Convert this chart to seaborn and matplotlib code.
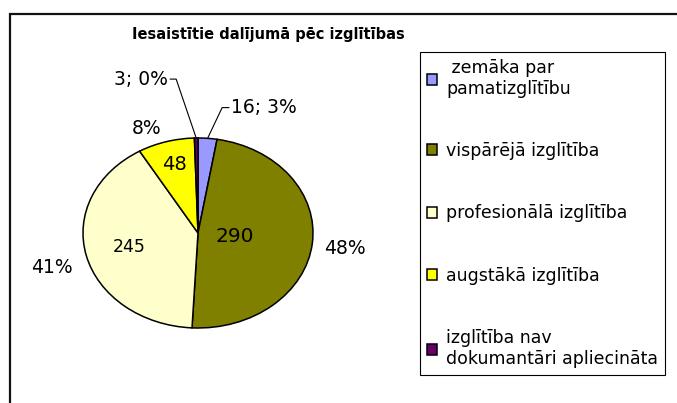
import numpy as np
import matplotlib
matplotlib.use("Agg")
import matplotlib.pyplot as plt
import seaborn as sns
from matplotlib.patches import Rectangle

# chart data
title = "Iesaistītie dalījumā pēc izglītības"
categories = [" zemāka par\npamatizglītību", "vispārējā izglītība",
              "profesionālā izglītība", "augstākā izglītība",
              "izglītība nav\ndokumantāri apliecināta"]
values = [16, 290, 245, 48, 3]
slice_colors = ["#9999FF", "#808000", "#FFFFCC", "#FFFF00", "#660066"]

sns.set_theme(style="white")
plt.rcParams["font.family"] = ["DejaVu Sans"]
plt.rcParams["text.color"] = "black"

fig = plt.figure(figsize=(6.77, 4.03), dpi=100)
fig.patch.set_facecolor("white")

# outer chart frame (runs off the right/bottom edge like the source image)
fig.patches.append(Rectangle((10 / 677, -0.05), 1.0, (403 - 14) / 403 + 0.05,
                             transform=fig.transFigure, fill=False,
                             edgecolor="#111111", linewidth=1.6))

fig.text(268 / 677, (403 - 34) / 403, title, ha="center", va="center",
         fontsize=10.5, fontweight="bold")

ax = fig.add_axes([14 / 677, 46.5 / 403, 368 / 677, 304 / 403])
wedges, _ = ax.pie(values, colors=sns.color_palette(slice_colors),
                   startangle=90, counterclock=False,
                   wedgeprops=dict(edgecolor="black", linewidth=1.1))
ax.set_aspect("auto")
ax.set_xlim(-1.6, 1.6)
ax.set_ylim(-1.3, 1.9)
ax.axis("off")

total = sum(values)
pcts = [round(v / total * 100) for v in values]
mids = [np.deg2rad((w.theta1 + w.theta2) / 2) for w in wedges]

# value inside, percent outside
inner_r = {1: 0.32, 2: 0.62, 3: 0.75}
inner_fs = {1: 14.5, 2: 12.5, 3: 14}
outer_pos = {1: (1.1, -0.04), 2: (1.12, -0.1), 3: (1.15, 0.0)}
for i in inner_r:
    a = mids[i]
    ax.text(inner_r[i] * np.cos(a), inner_r[i] * np.sin(a), str(values[i]),
            ha="center", va="center", fontsize=inner_fs[i])
    r, dy = outer_pos[i]
    ha = "left" if np.cos(a) > 0 else "right"
    ax.text(r * np.cos(a), r * np.sin(a) + dy, f"{pcts[i]}%",
            ha=ha, va="center", fontsize=13.5)

# small slices: "value; pct" with leader lines
leader = {0: (0.29, 1.32, "left"), 4: (-0.26, 1.62, "right")}
for i, (tx, ty, ha) in leader.items():
    a = mids[i]
    step = -0.08 if ha == "left" else 0.07
    ex, ey = np.cos(a), np.sin(a)
    ax.plot([ex, tx + step, tx + step / 4], [ey, ty, ty], color="black",
            linewidth=0.8, clip_on=False)
    ax.text(tx, ty, f"{values[i]}; {pcts[i]}%", ha=ha, va="center",
            fontsize=13.5)

leg = fig.legend(wedges, categories, loc="upper left",
                 bbox_to_anchor=(420 / 677, (403 - 52) / 403),
                 borderaxespad=0, fontsize=12.5, frameon=True, fancybox=False,
                 framealpha=1, edgecolor="black", labelspacing=2.55,
                 handlelength=0.6, handleheight=0.6, handletextpad=0.5,
                 borderpad=0.4)
leg.get_frame().set_linewidth(0.8)
for t in leg.get_texts():
    t.set_color("black")

fig.savefig("out.png", dpi=100, facecolor="white")
